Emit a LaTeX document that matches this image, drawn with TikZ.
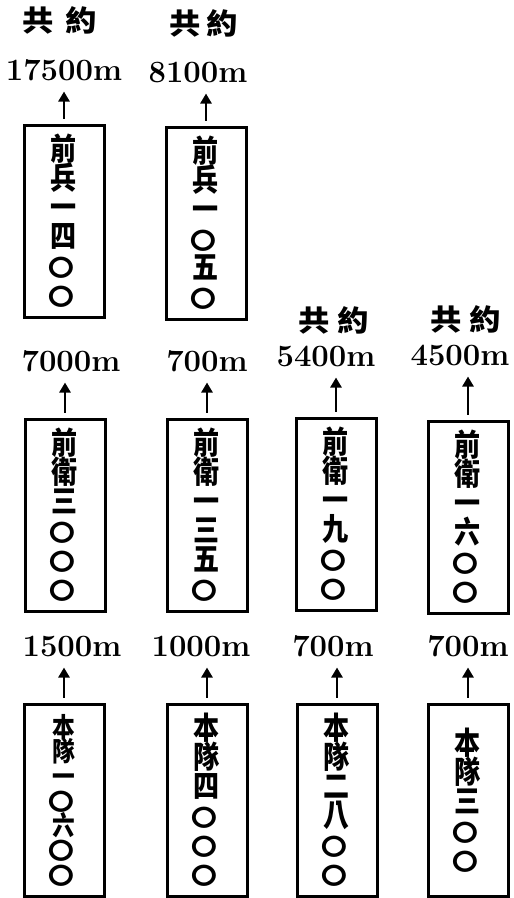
\documentclass[tikz,border=0pt]{standalone}
\usepackage{fontspec}
\newfontfamily\cjkflat{Noto Sans CJK TC}[FakeStretch=1.12]
\newfontfamily\cjknarrow{Noto Sans CJK TC}[FakeStretch=0.84]
\newfontfamily\cjkwide{Noto Sans CJK TC}[FakeStretch=1.08]
\newcommand{\ling}{{\cjkflat\bfseries\fontsize{23}{29}\selectfont\kern-2.5pt 〇\kern2.5pt}}
\newcommand{\colstack}[1]{\vbox{\let\\\cr\lineskiplimit=-\maxdimen
  \halign{\hfil##\hfil\cr#1\crcr}}}
\usetikzlibrary{positioning,arrows.meta}
\tikzset{
  unitbox/.style={draw, line width=3pt, minimum width=80pt, minimum height=192pt,
    inner sep=0pt, font=\cjknarrow\bfseries\fontsize{31}{29}\selectfont},
  distlabel/.style={inner sep=0pt, font=\bfseries\fontsize{31}{31}\selectfont},
  totallabel/.style={inner sep=0pt, font=\cjkwide\bfseries\fontsize{29}{29}\selectfont},
  uparrow/.style={-{Triangle[width=11pt,length=10pt]}, line width=2.6pt,
    shorten <=5pt, shorten >=10pt}
}

\begin{document}
\begin{tikzpicture}[x=1pt,y=-1pt]
  \useasboundingbox (0,0) rectangle (514,898);
  % 前兵
  \node[unitbox] (van1) at (64,221) {\colstack{前\\兵\\一\\四\\\ling\\\ling}};
  \node[unitbox] (van2) at (206,223) {\colstack{前\\兵\\一\\\ling\\五\\\ling}};
  % 前衛
  \node[unitbox] (guard1) at (65,515) {\colstack{前\\衛\\三\\\ling\\\ling\\\ling}};
  \node[unitbox] (guard2) at (207,515) {\colstack{前\\衛\\一\\三\\五\\\ling}};
  \node[unitbox] (guard3) at (336,514) {\colstack{前\\衛\\一\\九\\\ling\\\ling}};
  \node[unitbox] (guard4) at (468,517) {\colstack{前\\衛\\一\\六\\\ling\\\ling}};
  % 本隊
  \node[unitbox, font=\cjknarrow\bfseries\fontsize{27}{24.5}\selectfont]
    (main1) at (64,800) {\colstack{本\\隊\\一\\\ling\\六\\\ling\\\ling}};
  \node[unitbox] (main2) at (207,800) {\colstack{本\\隊\\四\\\ling\\\ling\\\ling}};
  \node[unitbox] (main3) at (337,800) {\colstack{本\\隊\\二\\八\\\ling\\\ling}};
  \node[unitbox] (main4) at (468,800) {\colstack{本\\隊\\三\\\ling\\\ling}};

  % distances
  \node[distlabel, above=42pt of van1] (dvan1) {17500m};
  \node[distlabel, above=42pt of van2, xshift=-8pt] (dvan2) {8100m};
  \node[distlabel, above=45pt of guard1, xshift=6pt] (dguard1) {7000m};
  \node[distlabel, above=45pt of guard2] (dguard2) {700m};
  \node[distlabel, above=49pt of guard3, xshift=-10pt] (dguard3) {5400m};
  \node[distlabel, above=53pt of guard4, xshift=-8pt] (dguard4) {4500m};
  \node[distlabel, above=45pt of main1, xshift=8pt] (dmain1) {1500m};
  \node[distlabel, above=45pt of main2, xshift=-6pt] (dmain2) {1000m};
  \node[distlabel, above=45pt of main3, xshift=-4pt] (dmain3) {700m};
  \node[distlabel, above=45pt of main4] (dmain4) {700m};

  % totals
  \node[totallabel, above=25pt of dvan1, xshift=-4pt] (svan1) {共\hspace{12pt}約};
  \node[totallabel, above=25pt of dvan2, xshift=6pt] (svan2) {共\hspace{6pt}約};
  \node[totallabel, above=12pt of dguard3, xshift=8pt] (sguard3) {共\hspace{8pt}約};
  \node[totallabel, above=12pt of dguard4, xshift=6pt] (sguard4) {共\hspace{8pt}約};

  % arrows
  \foreach \u in {van1,van2,guard1,guard2,guard3,guard4,main1,main2,main3,main4}
    \draw[uparrow] (\u.north) -- (\u.north |- d\u.south);
\end{tikzpicture}
\end{document}
